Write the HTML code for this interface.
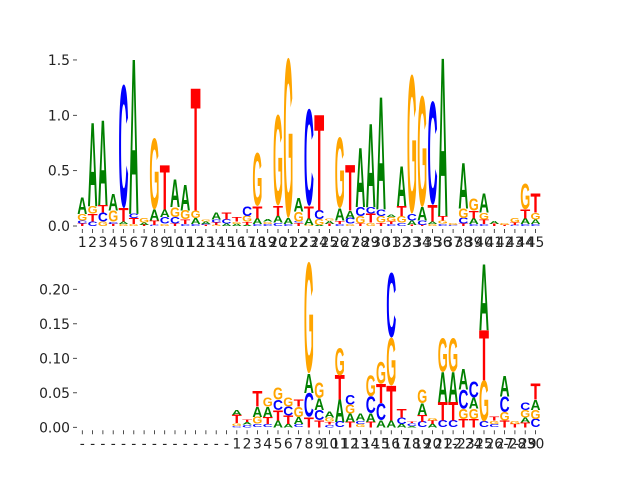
<!DOCTYPE html>
<html><head><meta charset="utf-8"><style>
html,body{margin:0;padding:0;background:#fff}
svg{display:block}
text.tick{font-family:"DejaVu Sans","Liberation Sans",sans-serif;font-size:13.9px;fill:#222}
</style></head><body>
<svg id="chart" width="640" height="480" viewBox="0 0 640 480" xmlns="http://www.w3.org/2000/svg">
<g id="top"></g>
<g id="bot"></g>
</svg>
<script>
// ---- data: letters bottom->top and cumulative tops per position ----
const topLetters = ["TCGA","CTGA","GCTA","TCGA","GATC","GTCA","TAG","CTAG","GCAT","TCGA","CTGA","CAGT","TCAG","GTCA","ACT","AGT","ATGC","CATG","CGA","CATG","CAG","TCGA","GATC","AGCT","TAG","CTAG","GCAT","TGCA","GTCA","TGCA","CTGA","CGTA","TACG","TCAG","GATC","CGTA","CG","TCGA","CATG","CTGA","TA","TG","CTG","CATG","CAGT"];
const topTops = [
[.02,.05,.11,.26],[.04,.11,.18,.93],[.04,.12,.19,.95],[.02,.04,.14,.29],[.02,.04,.16,1.28],
[.02,.07,.11,1.5],[.01,.03,.07],[.01,.05,.15,.80],[.02,.08,.15,.55],[.02,.08,.17,.42],
[.02,.06,.14,.37],[.02,.07,.14,1.24],[.01,.02,.04,.06],[.01,.03,.06,.12],[.02,.06,.12],
[.02,.04,.08],[.01,.04,.09,.18],[.02,.07,.18,.66],[.02,.04,.06],[.03,.09,.18,1.0],
[.02,.07,1.52],[.03,.04,.13,.25],[.01,.07,.18,1.06],[.01,.06,.14,1.0],[.02,.05,.07],
[.02,.05,.16,.80],[.02,.07,.14,.55],[.02,.09,.17,.70],[.03,.11,.17,.92],[.03,.09,.15,1.16],
[.02,.04,.08,.10],[.03,.09,.18,.54],[.01,.05,.11,1.37],[.01,.05,.17,1.18],[.02,.04,.19,1.13],
[.02,.05,.09,1.51],[.01,.03],[.02,.07,.16,.57],[.02,.07,.14,.25],[.02,.06,.12,.29],
[.02,.05],[.01,.03],[.01,.03,.07],[.02,.07,.15,.38],[.02,.06,.12,.29]];
const topTicks = [0,0.5,1.0,1.5];
const topTickLabels = ["0.0","0.5","1.0","1.5"];
const topXLabels = Array.from({length:45},(_,i)=>String(i+1));

const botLetters = ["","","","","","","","","","","","","","","",
"CGTA","CAT","CGAT","CTAG","ATCG","ATCG","CAGT","TCAG","TCAG","CTGA","CATG","TAGC","GCA","TACG","ACTG","ATGC","ACT","ACT","CTAG","ATG","CTAG","CTAG","TGCA","TGAC","CGTA","CGT","TGCA","TG","TAGC","CGAT"];
const botTops = [[],[],[],[],[],[],[],[],[],[],[],[],[],[],[],
[.002,.006,.018,.025],[.004,.008,.012],[.005,.015,.03,.052],[.005,.015,.03,.043],[.01,.025,.04,.058],
[.005,.017,.03,.043],[.005,.015,.03,.04],[.015,.05,.078,.24],[.01,.025,.042,.065],[.004,.008,.014,.022],
[.008,.04,.075,.115],[.008,.02,.033,.047],[.005,.01,.02],[.008,.02,.045,.075],[.01,.035,.063,.095],
[.01,.06,.13,.225],[.005,.014,.026],[.002,.006,.008],[.008,.018,.035,.055],[.005,.01,.014],
[.01,.037,.08,.13],[.01,.037,.08,.13],[.012,.027,.055,.085],[.012,.027,.043,.067],[.008,.068,.14,.235],
[.005,.01,.015],[.01,.022,.045,.075],[.005,.01],[.007,.014,.025,.036],[.012,.025,.04,.063]];
const botTicks = [0,0.05,0.10,0.15,0.20];
const botTickLabels = ["0.00","0.05","0.10","0.15","0.20"];
const botXLabels = ["-","-","-","-","-","-","-","-","-","-","-","-","-","-","-",
"1","2","3","4","5","6","7","8","9","10","11","12","13","14","15","16","17","18","19","20","21","22","-23","24","25","26","27","-28","-29","30"];

const COLORS = {A:"#008000",C:"#0000ff",G:"#ffa500",T:"#ff0000"};
const NS = "http://www.w3.org/2000/svg";
const x0 = 82.3, dx = 10.3, letterW = 10;
function mk(tag, attrs, parent){const e=document.createElementNS(NS,tag);for(const k in attrs)e.setAttribute(k,attrs[k]);parent.appendChild(e);return e;}

function drawPanel(g, letters, tops, ticks, tickLabels, xLabels, y0px, yPerUnit, name){
  const yScale = v => y0px - v*yPerUnit;
  const xScale = i => x0 + i*dx;
  ticks.forEach((t,i)=>{
    const y = yScale(t);
    const l = mk("line",{x1:73,x2:77,y1:y,y2:y,stroke:"#222","stroke-width":0.8},g);
    
    
    const tx = mk("text",{x:70,y:y+5,"text-anchor":"end",class:"tick"},g);
    tx.textContent = tickLabels[i];
    
    
  });
  xLabels.forEach((lab,i)=>{
    const x = xScale(i);
    const l = mk("line",{x1:x,x2:x,y1:y0px+3,y2:y0px+7,stroke:"#222","stroke-width":0.8},g);
    
    
    const tx = mk("text",{x:x,y:y0px+21,"text-anchor":"middle",class:"tick"},g);
    tx.textContent = lab;
    
    
  });
  letters.forEach((str,i)=>{
    let prev = 0;
    for(let k=0;k<str.length;k++){
      const ch = str[k], top = tops[i][k];
      const h = (top-prev)*yPerUnit;
      const yb = yScale(prev);
      prev = top;
      if(h<=0.05) continue;
      const capH = (ch==="C"||ch==="G") ? 71 : 68.8;
      const off = (ch==="C"||ch==="G") ? 1.1 : 0;
      const t = mk("text",{x:0,y:-off,"font-family":"Liberation Sans, sans-serif","font-weight":"bold","font-size":100,
        fill:COLORS[ch],textLength:letterW,lengthAdjust:"spacingAndGlyphs",
        transform:`translate(${xScale(i)-letterW/2},${yb}) scale(1,${h/capH})`},g);
      t.textContent = ch;
      
      
    }
  });
}
drawPanel(document.getElementById('top'), topLetters, topTops, topTicks, topTickLabels, topXLabels, 226, 110.7, 'top');
drawPanel(document.getElementById('bot'), botLetters, botTops, botTicks, botTickLabels, botXLabels, 427.3, 690, 'bottom');
</script>
</body></html>
